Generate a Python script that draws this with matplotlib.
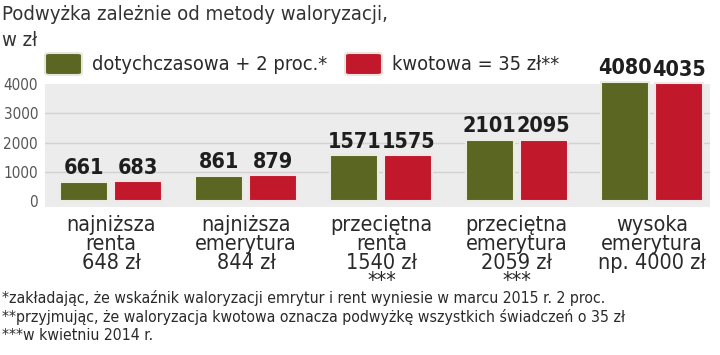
import matplotlib.pyplot as plt
from matplotlib.patches import FancyBboxPatch
import numpy as np

plt.rcParams['font.family'] = ['DejaVu Sans']
plt.rcParams['font.stretch'] = 'condensed'

categories = ['najniższa\nrenta\n648 zł', 'najniższa\nemerytura\n844 zł',
              'przeciętna\nrenta\n1540 zł\n***', 'przeciętna\nemerytura\n2059 zł\n***',
              'wysoka\nemerytura\nnp. 4000 zł']
dotychczasowa = [661, 861, 1571, 2101, 4080]
kwotowa = [683, 879, 1575, 2095, 4035]
series_names = ['dotychczasowa + 2 proc.*', 'kwotowa = 35 zł**']
yticks = [0, 1000, 2000, 3000, 4000]
footnotes = ['*zakładając, że wskaźnik waloryzacji emrytur i rent wyniesie w marcu 2015 r. 2 proc.',
             '**przyjmując, że waloryzacja kwotowa oznacza podwyżkę wszystkich świadczeń o 35 zł',
             '***w kwietniu 2014 r.']

GREEN = '#5a6622'
RED = '#c1192b'
TXT = '#2a2a2a'

fig = plt.figure(figsize=(7.2, 3.55), dpi=100)
ax = fig.add_axes([45 / 720, 148 / 355, 665 / 720, 123 / 355])
ax.set_facecolor('#ececec')
for s in ax.spines.values():
    s.set_visible(False)

x = np.arange(len(categories))
w = 0.355
off = 0.2
b1 = ax.bar(x - off, dotychczasowa, w, color=GREEN, edgecolor='#ecebe0', linewidth=1.5, clip_on=False, zorder=3)
b2 = ax.bar(x + off, kwotowa, w, color=RED, edgecolor='#f3e6e6', linewidth=1.5, clip_on=False, zorder=3)

# value labels above bars
for bars, vals in ((b1, dotychczasowa), (b2, kwotowa)):
    for r, v in zip(bars, vals):
        ax.annotate(str(v), (r.get_x() + r.get_width() / 2, v), xytext=(0, 2.5),
                    textcoords='offset points', ha='center', va='bottom',
                    fontsize=15.5, fontweight='bold', color='#1e1e1e', annotation_clip=False)

ax.set_xlim(-0.488, 4.43)
ax.set_ylim(-200, 4000)
ax.set_yticks(yticks)
ax.set_yticklabels([str(t) for t in yticks], fontsize=11, color='#555555')
ax.tick_params(axis='y', length=0, pad=5)
ax.set_xticks([])
for t in yticks[1:4]:
    ax.axhline(t, color='#d2d2d2', linewidth=1, zorder=1)

for xi, c in zip(x, categories):
    ax.text(xi, -480, c, ha='center', va='top', fontsize=15.5, color=TXT,
            linespacing=0.92, clip_on=False)

fig.text(2 / 720, 1 - 14 / 355, 'Podwyżka zależnie od metody waloryzacji,', fontsize=14.6,
         color='#333333', va='center', ha='left')
fig.text(2 / 720, 1 - 40 / 355, 'w zł', fontsize=14.6, color='#333333', va='center', ha='left')

# legend
for name, col, bx in zip(series_names, [GREEN, RED], [45, 345]):
    p = FancyBboxPatch((bx / 720, 1 - 75 / 355), 37 / 720, 22 / 355,
                       boxstyle='round,pad=0,rounding_size=0.006', transform=fig.transFigure,
                       facecolor=col, edgecolor='#e8e6dc', linewidth=1.5)
    fig.add_artist(p)
    fig.text((bx + 47) / 720, 1 - 64 / 355, name, fontsize=14.4, color=TXT, va='center', ha='left')

for i, f in enumerate(footnotes):
    fig.text(2 / 720, 1 - (298 + 19 * i) / 355, f, fontsize=11.3, color=TXT, va='center', ha='left')

fig.savefig('out.png', dpi=100)
